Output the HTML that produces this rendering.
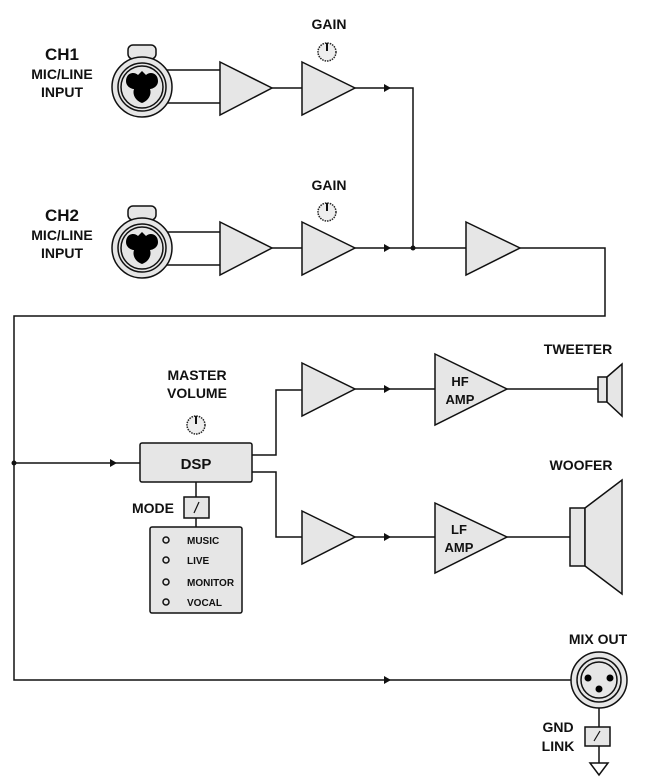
<!DOCTYPE html>
<html><head><meta charset="utf-8"><style>
body{margin:0;background:#fff}
svg{display:block}
text{font-family:"Liberation Sans",sans-serif;font-weight:bold;fill:#111}
.s{stroke:#111;stroke-width:1.5;fill:none}
.f{stroke:#111;stroke-width:1.5;fill:#e6e6e6}
</style></head><body>
<svg width="670" height="784" viewBox="0 0 670 784">
<defs>
<g id="jack">
  <rect x="-14" y="-42" width="28" height="14" rx="5" class="f"/>
  <circle r="30" class="f"/>
  <circle r="24" class="s"/>
  <circle r="21" class="s"/>
  <path d="M-16,-6 C-16,-14 -8,-16 -4,-12 L0,-16 L4,-12 C8,-16 16,-14 16,-6 C16,0 10,2 8,2 C10,8 6,14 0,16 C-6,14 -10,8 -8,2 C-10,2 -16,0 -16,-6Z" fill="#000"/>
</g>
<g id="knob"><circle r="9" fill="#eee" stroke="#222" stroke-width="1.5" stroke-dasharray="1.5 1"/><line x1="0" y1="-9" x2="0" y2="-1" stroke="#111" stroke-width="2"/></g>
</defs>

<!-- CH1 -->
<text x="62" y="60" font-size="17" text-anchor="middle">CH1</text>
<text x="62" y="79" font-size="14" text-anchor="middle">MIC/LINE</text>
<text x="62" y="97" font-size="14" text-anchor="middle">INPUT</text>
<line x1="160" y1="70" x2="220" y2="70" class="s"/><line x1="160" y1="103" x2="220" y2="103" class="s"/>
<use href="#jack" x="142" y="87"/>
<polygon points="220,62 272,88 220,115" class="f"/>
<line x1="272" y1="88" x2="302" y2="88" class="s"/>
<polygon points="302,62 355,88 302,115" class="f"/>
<text x="329" y="29" font-size="14" text-anchor="middle">GAIN</text>
<use href="#knob" x="327" y="52"/>
<polyline points="355,88 413,88 413,248" class="s"/>
<polygon points="384,84 391,88 384,92" fill="#111"/>

<!-- CH2 -->
<text x="62" y="221" font-size="17" text-anchor="middle">CH2</text>
<text x="62" y="240" font-size="14" text-anchor="middle">MIC/LINE</text>
<text x="62" y="258" font-size="14" text-anchor="middle">INPUT</text>
<line x1="160" y1="232" x2="220" y2="232" class="s"/><line x1="160" y1="265" x2="220" y2="265" class="s"/>
<use href="#jack" x="142" y="248"/>
<polygon points="220,222 272,248 220,275" class="f"/>
<line x1="272" y1="248" x2="302" y2="248" class="s"/>
<polygon points="302,222 355,248 302,275" class="f"/>
<text x="329" y="190" font-size="14" text-anchor="middle">GAIN</text>
<use href="#knob" x="327" y="212"/>
<line x1="355" y1="248" x2="466" y2="248" class="s"/>
<polygon points="384,244 391,248 384,252" fill="#111"/>
<circle cx="413" cy="248" r="2.5" fill="#111"/>
<polygon points="466,222 520,248 466,275" class="f"/>
<polyline points="520,248 605,248 605,316 14,316 14,680 572,680" class="s"/>
<polygon points="384,676 391,680 384,684" fill="#111"/>
<line x1="14" y1="463" x2="140" y2="463" class="s"/>
<circle cx="14" cy="463" r="2.5" fill="#111"/>
<polygon points="110,459 117,463 110,467" fill="#111"/>

<!-- DSP -->
<text x="197" y="380" font-size="14" text-anchor="middle">MASTER</text>
<text x="197" y="398" font-size="14" text-anchor="middle">VOLUME</text>
<use href="#knob" x="196" y="425"/>
<rect x="140" y="443" width="112" height="39" rx="2" class="f"/>
<text x="196" y="469" font-size="15" text-anchor="middle">DSP</text>
<polyline points="252,455 276,455 276,390 302,390" class="s"/>
<polyline points="252,472 276,472 276,537 302,537" class="s"/>
<line x1="196" y1="482" x2="196" y2="527" class="s"/>
<text x="153" y="513" font-size="14" text-anchor="middle">MODE</text>
<rect x="184" y="497" width="25" height="21" class="f"/>
<line x1="194" y1="513" x2="199" y2="502" stroke="#111" stroke-width="1.2"/>
<rect x="150" y="527" width="92" height="86" rx="2" class="f"/>
<g font-size="10">
<circle cx="166" cy="540" r="3" class="s"/><text x="187" y="544" font-size="10">MUSIC</text>
<circle cx="166" cy="560" r="3" class="s"/><text x="187" y="564" font-size="10">LIVE</text>
<circle cx="166" cy="582" r="3" class="s"/><text x="187" y="586" font-size="10">MONITOR</text>
<circle cx="166" cy="602" r="3" class="s"/><text x="187" y="606" font-size="10">VOCAL</text>
</g>

<!-- HF -->
<polygon points="302,363 355,389 302,416" class="f"/>
<line x1="355" y1="389" x2="435" y2="389" class="s"/>
<polygon points="384,385 391,389 384,393" fill="#111"/>
<polygon points="435,354 507,389 435,425" class="f"/>
<text x="460" y="386" font-size="13" text-anchor="middle">HF</text>
<text x="460" y="404" font-size="13" text-anchor="middle">AMP</text>
<line x1="507" y1="389" x2="598" y2="389" class="s"/>
<rect x="598" y="377" width="9" height="25" class="f"/>
<polygon points="607,377 622,364 622,416 607,402" class="f"/>
<text x="578" y="354" font-size="14" text-anchor="middle">TWEETER</text>

<!-- LF -->
<polygon points="302,511 355,537 302,564" class="f"/>
<line x1="355" y1="537" x2="435" y2="537" class="s"/>
<polygon points="384,533 391,537 384,541" fill="#111"/>
<polygon points="435,503 507,537 435,573" class="f"/>
<text x="459" y="534" font-size="13" text-anchor="middle">LF</text>
<text x="459" y="552" font-size="13" text-anchor="middle">AMP</text>
<line x1="507" y1="537" x2="570" y2="537" class="s"/>
<rect x="570" y="508" width="15" height="58" class="f"/>
<polygon points="585,508 622,480 622,594 585,566" class="f"/>
<text x="581" y="470" font-size="14" text-anchor="middle">WOOFER</text>

<!-- MIX OUT -->
<text x="598" y="644" font-size="14" text-anchor="middle">MIX OUT</text>
<circle cx="599" cy="680" r="28" class="f"/>
<circle cx="599" cy="680" r="22" class="s"/>
<circle cx="599" cy="680" r="18" class="s"/>
<circle cx="588" cy="678" r="3.5" fill="#000"/><circle cx="610" cy="678" r="3.5" fill="#000"/><circle cx="599" cy="689" r="3.5" fill="#000"/>
<line x1="599" y1="708" x2="599" y2="763" class="s"/>
<rect x="585" y="727" width="25" height="19" class="f"/>
<line x1="594" y1="741" x2="600" y2="731" stroke="#111" stroke-width="1.2"/>
<polygon points="590,763 608,763 599,775" class="s" fill="#fff"/>
<text x="558" y="732" font-size="14" text-anchor="middle">GND</text>
<text x="558" y="751" font-size="14" text-anchor="middle">LINK</text>
</svg>
</body></html>
